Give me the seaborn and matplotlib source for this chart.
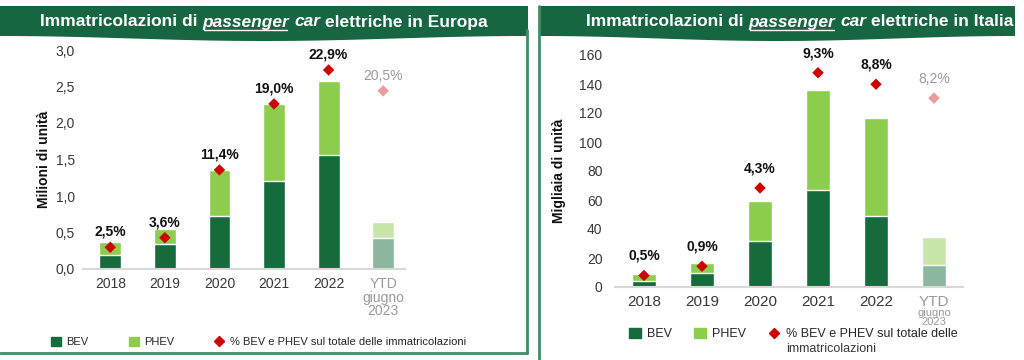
import numpy as np
import matplotlib
matplotlib.use("Agg")
import matplotlib.pyplot as plt
import seaborn as sns
from matplotlib.patches import Patch, Polygon
from matplotlib.lines import Line2D

# -------------------------------
# Data
# -------------------------------
years = ["2018", "2019", "2020", "2021", "2022", "YTD"]

# Europe (milioni di unità)
eu_bev = [0.19, 0.34, 0.73, 1.21, 1.56, 0.42]
eu_phev = [0.18, 0.21, 0.63, 1.05, 1.02, 0.23]
eu_share = [2.5, 3.6, 11.4, 19.0, 22.9, 20.5]
eu_yticks = [0, 0.5, 1.0, 1.5, 2.0, 2.5, 3.0]
eu_yticklabels = ["0,0", "0,5", "1,0", "1,5", "2,0", "2,5", "3,0"]

# Italia (migliaia di unità)
it_bev = [4.3, 9.9, 31.7, 66.7, 49.0, 15.4]
it_phev = [4.7, 6.4, 27.4, 69.2, 67.8, 19.3]
it_share = [0.5, 0.9, 4.3, 9.3, 8.8, 8.2]
it_yticks = [0, 20, 40, 60, 80, 100, 120, 140, 160]
it_yticklabels = ["0", "20", "40", "60", "80", "100", "120", "140", "160"]

# -------------------------------
# Style
# -------------------------------
sns.set_style("white")
plt.rcParams["font.family"] = ["Liberation Sans", "DejaVu Sans"]

DARK = "#166b3c"
LIGHT = "#8dcd4e"
DARK_YTD = "#8cb69e"
LIGHT_YTD = "#c9e6aa"
RED = "#d00000"
RED_YTD = "#e99c9c"
HEADER = "#176642"
BORDER = "#3e8f66"
TXT = "#383838"
GREY = "#9a9a9a"

W, H = 1024, 360
fig = plt.figure(figsize=(W / 100, H / 100), dpi=100)
fig.patch.set_facecolor("white")

# background axes in pixel coordinates for the frames / headers
bg = fig.add_axes([0, 0, 1, 1], zorder=-1)
bg.set_xlim(0, W)
bg.set_ylim(H, 0)
bg.axis("off")


def header(x0, x1):
    xs = np.linspace(x0, x1, 60)
    bottom = 36 + 5 * np.sin(np.pi * (xs - x0) / (x1 - x0)) ** 2
    pts = [(x0, 6), (x1, 6)] + list(zip(xs[::-1], bottom[::-1]))
    bg.add_patch(Polygon(pts, closed=True, color=HEADER, lw=0))


header(0, 528)
header(540, 1015)

# panel borders
bg.plot([527, 527], [30, 353], color=BORDER, lw=2)
bg.plot([0, 527], [353, 353], color=BORDER, lw=2)
bg.plot([539, 539], [6, 360], color=BORDER, lw=2)


def title(xc, y, parts, size=12.5):
    renderer = fig.canvas.get_renderer()
    kw = dict(color="white", fontsize=size, fontweight="bold", va="center")
    a = bg.text(0, 0, "xx", **kw)
    b = bg.text(0, 0, "x x", **kw)
    sp = b.get_window_extent(renderer).width - a.get_window_extent(renderer).width
    a.remove()
    b.remove()
    texts = []
    for s, style in parts:
        texts.append(bg.text(0, y, s, fontstyle=style, **kw))
    widths = [t.get_window_extent(renderer).width for t in texts]
    x = xc - (sum(widths) + sp * (len(widths) - 1)) / 2
    for t, w, (s, style) in zip(texts, widths, parts):
        t.set_x(x)
        if s == "passenger":
            bg.plot([x + 1, x + w - 2], [y + 8, y + 8], color="white", lw=1)
        x += w + sp


parts_eu = [("Immatricolazioni di", "normal"), ("passenger", "italic"),
            ("car", "italic"), ("elettriche in Europa", "normal")]
parts_it = [("Immatricolazioni di", "normal"), ("passenger", "italic"),
            ("car", "italic"), ("elettriche in Italia", "normal")]


def chart(ax, bev, phev, share, yticks, yticklabels, share_max,
          ylabel, fs, lab_off, ytd_small, pad_y, xmax):
    total = [b + p for b, p in zip(bev, phev)]
    n = len(years)
    sns.barplot(x=years, y=total, hue=years,
                palette=[LIGHT] * (n - 1) + [LIGHT_YTD],
                legend=False, width=0.4, saturation=1, ax=ax)
    sns.barplot(x=years, y=bev, hue=years,
                palette=[DARK] * (n - 1) + [DARK_YTD],
                legend=False, width=0.4, saturation=1, ax=ax)
    ax.set_ylim(yticks[0], yticks[-1])
    ax.set_xlim(-0.5, xmax)
    ax.set_yticks(yticks)
    ax.set_yticklabels(yticklabels, fontsize=fs, color=TXT)
    ax.set_xticks(range(n))
    labels = years[:-1] + (["YTD"] if ytd_small else ["YTD\ngiugno\n2023"])
    ax.set_xticklabels(labels, fontsize=fs + 0.5, color=TXT, va="top")
    ax.get_xticklabels()[-1].set_color(GREY)
    ax.tick_params(axis="both", length=0)
    ax.tick_params(axis="y", pad=pad_y)
    ax.tick_params(axis="x", pad=6)
    ax.set_xlabel("")
    ax.set_ylabel(ylabel, fontsize=fs, fontweight="bold", color="#111111")
    for s in ["left", "right", "top"]:
        ax.spines[s].set_visible(False)
    ax.spines["bottom"].set_color("#d8d8d8")
    ax.spines["bottom"].set_linewidth(1.5)
    ax.set_facecolor("none")

    if ytd_small:
        ax.annotate("giugno\n2023", xy=(n - 1, 0), xycoords="data",
                    xytext=(0, -15), textcoords="offset points",
                    ha="center", va="top", fontsize=8, color=GREY,
                    linespacing=0.85, annotation_clip=False)

    ax2 = ax.twinx()
    ax2.set_ylim(0, share_max)
    ax2.axis("off")
    sns.scatterplot(x=np.arange(n), y=share, hue=years,
                    palette=[RED] * (n - 1) + [RED_YTD], marker="D",
                    s=34, linewidth=0, legend=False, ax=ax2, zorder=5)
    for i, v in enumerate(share):
        ytd = i == n - 1
        ax2.annotate(f"{v:.1f}%".replace(".", ","), (i, v),
                     xytext=(0, lab_off), textcoords="offset points",
                     ha="center", va="bottom", fontsize=fs,
                     fontweight="normal" if ytd else "bold",
                     color=GREY if ytd else "#111111")
    ax.set_xlim(-0.5, xmax)
    return ax


# -------------------------------
# Europa
# -------------------------------
ax_eu = fig.add_axes([83 / W, 1 - 269 / H, 322 / W, 219 / H])
chart(ax_eu, eu_bev, eu_phev, eu_share, eu_yticks, eu_yticklabels, 25.2,
      "Milioni di unità", 10, 6, False, 6, 5.4)
ax_eu.yaxis.set_label_coords(-0.10, 0.5)
for t in ax_eu.get_xticklabels():
    t.set_fontsize(10)
ax_eu.get_xticklabels()[-1].set_linespacing(0.95)

# -------------------------------
# Italia
# -------------------------------
ax_it = fig.add_axes([615 / W, 1 - 287 / H, 348 / W, 232 / H])
chart(ax_it, it_bev, it_phev, it_share, it_yticks, it_yticklabels, 10.07,
      "Migliaia di unità", 10, 9, True, 9, 5.5)
ax_it.yaxis.set_label_coords(-0.14, 0.5)
for t in ax_it.get_xticklabels():
    t.set_fontsize(11)

# -------------------------------
# Legends
# -------------------------------
handles = [Patch(color=DARK), Patch(color=LIGHT),
           Line2D([], [], marker="D", color=RED, ls="none", markersize=5)]

fig.legend(handles, ["BEV", "PHEV", "% BEV e PHEV sul totale delle immatricolazioni"],
           loc="center left", bbox_to_anchor=(41 / W, 1 - 342 / H), ncol=3,
           frameon=False, fontsize=8, handlelength=0.9, handleheight=0.9,
           handletextpad=0.5, columnspacing=3.6)

leg_it = fig.legend(handles, ["BEV", "PHEV", "% BEV e PHEV sul totale delle"],
                    loc="center left", bbox_to_anchor=(618 / W, 1 - 334 / H),
                    ncol=3, frameon=False, fontsize=9, handlelength=0.9,
                    handleheight=0.9, handletextpad=0.5, columnspacing=1.8)

title(264, 22, parts_eu)
title(800, 22, parts_it)

# second line of the Italian legend label
fig.canvas.draw()
bb = leg_it.get_texts()[2].get_window_extent()
fig.text(bb.x0 / W, 1 - 349 / H, "immatricolazioni", fontsize=9,
         color=TXT, ha="left", va="center")

fig.savefig("out.png", dpi=100, facecolor="white")
